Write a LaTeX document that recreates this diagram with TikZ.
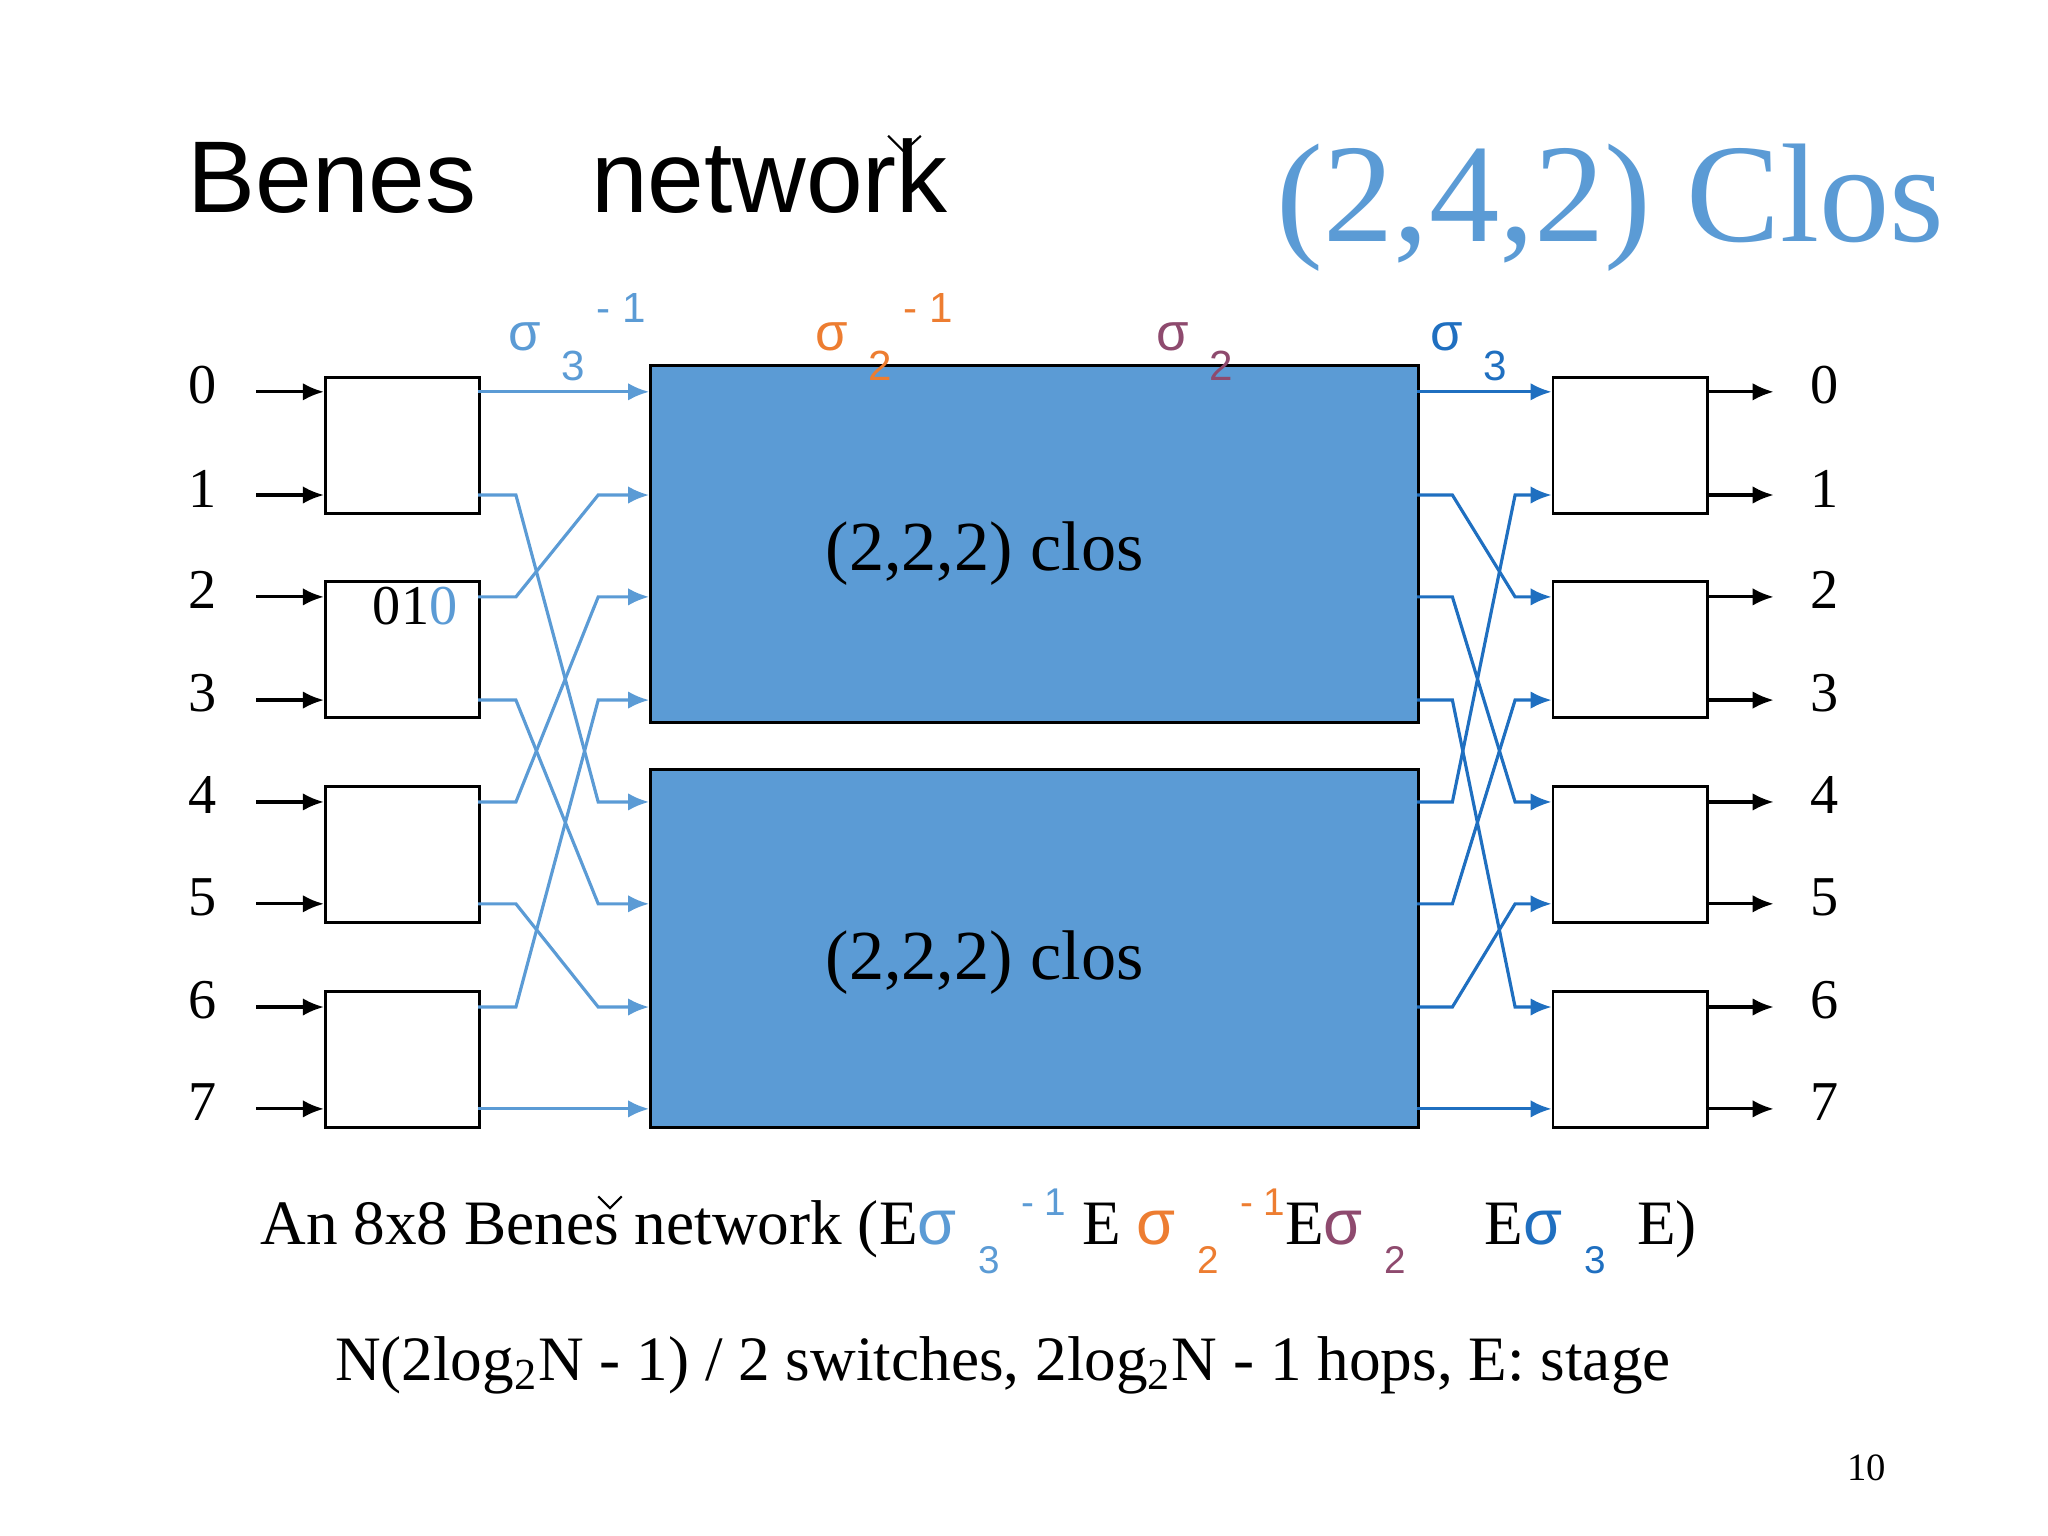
\documentclass[tikz,border=0pt]{standalone}
\usepackage{fontspec}
\setmainfont{Liberation Serif}
\newfontfamily\sans{Liberation Sans}
\usetikzlibrary{arrows.meta}
\definecolor{lb}{HTML}{5B9BD5}
\definecolor{db}{HTML}{1F6FC0}
\definecolor{orn}{HTML}{ED7D31}
\definecolor{plum}{HTML}{8E4A6E}
\begin{document}
\begin{tikzpicture}[x=0.013061cm,y=-0.013061cm,
  sw/.style={draw=black,fill=white,line width=0.8pt},
  clos/.style={draw=black,fill=lb,line width=0.8pt},
  inar/.style={-{Latex[length=6pt,width=5pt]},line width=0.9pt},
  lw/.style={lb,line width=0.9pt,-{Latex[length=6pt,width=5pt]}},
  rw/.style={db,line width=0.9pt,-{Latex[length=6pt,width=5pt]}},
  num/.style={font=\fontsize{16}{16}\selectfont},
  sig/.style={font=\sans\fontsize{15}{15}\selectfont}]
\useasboundingbox (0,0) rectangle (1568,1176);
\node[font=\sans\fontsize{29}{29}\selectfont,anchor=base west] (t1) at (134,163) {Benes};
\node[font=\sans\fontsize{29}{29}\selectfont,anchor=base west] (t2) at (443,163) {network};
\draw[line width=0.6pt] (680,104) -- (692,116) -- (705,104);
\node[font=\fontsize{40}{40}\selectfont,text=lb,anchor=base west] (t3) at (968,185) {(2,4,2) Clos};
% clos boxes
\node[clos,minimum width=588*0.013061cm,minimum height=273*0.013061cm,anchor=north west,inner sep=0] (u) at (497,279) {};
\node[clos,minimum width=588*0.013061cm,minimum height=274*0.013061cm,anchor=north west,inner sep=0] (d) at (497,588) {};
\node[font=\fontsize{20}{20}\selectfont] (ul) at (754,424) {(2,2,2) clos};
\node[font=\fontsize{20}{20}\selectfont] (dl) at (754,737) {(2,2,2) clos};
% switches
\foreach \i/\yt in {0/288,1/444,2/601,3/758}{
  \node[sw,minimum width=118*0.013061cm,minimum height=104*0.013061cm,anchor=north west,inner sep=0] (L\i) at (248,\yt) {};
  \node[sw,minimum width=118*0.013061cm,minimum height=104*0.013061cm,anchor=north west,inner sep=0] (R\i) at (1188,\yt) {};
}
\node[num,anchor=base west] (c010) at (276,478) {01\textcolor{lb}{0}};
% inputs/outputs
\foreach \n/\y in {0/300,1/379,2/457,3/536,4/614,5/692,6/771,7/849}{
  \coordinate (a\n) at (196,\y);
  \coordinate (b\n) at (248,\y);
  \coordinate (e\n) at (1306,\y);
  \coordinate (f\n) at (1358,\y);
  \draw[inar] (a\n) -- (b\n);
  \draw[inar] (e\n) -- (f\n);
  \node[num] (ln\n) at (155,\y-5) {\n};
  \node[num] (rn\n) at (1397,\y-5) {\n};
}
% left wiring: from y -> to y
\foreach \s/\t in {379/614,457/379,536/692,614/457,692/771,771/536}{
  \draw[lw] (366,\s) -- (395,\s) -- (458,\t) -- (497,\t);
}
\draw[lw] (366,300) -- (497,300);
\draw[lw] (366,849) -- (497,849);
% right wiring
\foreach \s/\t in {379/457,457/614,536/771,614/379,692/536,771/692}{
  \draw[rw] (1085,\s) -- (1112,\s) -- (1160,\t) -- (1188,\t);
}
\draw[rw] (1085,300) -- (1188,300);
\draw[rw] (1085,849) -- (1188,849);
% sigma labels
\node[sig,text=lb,anchor=base west] (s1) at (380,268) {σ\,\raisebox{-1.1ex}{\fontsize{12}{12}\selectfont\ 3}\raisebox{1ex}{\fontsize{12}{12}\selectfont\ - 1}};
\node[sig,text=orn,anchor=base west] (s2) at (615,268) {σ\,\raisebox{-1.1ex}{\fontsize{12}{12}\selectfont\ 2}\raisebox{1ex}{\fontsize{12}{12}\selectfont\ - 1}};
\node[sig,text=plum,anchor=base west] (s3) at (876,268) {σ\,\raisebox{-1.1ex}{\fontsize{12}{12}\selectfont\ 2}};
\node[sig,text=db,anchor=base west] (s4) at (1086,268) {σ\,\raisebox{-1.1ex}{\fontsize{12}{12}\selectfont\ 3}};
% caption
\node[font=\fontsize{18}{18}\selectfont,anchor=base west] (cap) at (190,953) {An 8x8 Benes network (E\textcolor{lb}{{\sans σ}\raisebox{-1ex}{\sans\fontsize{11}{11}\selectfont\ \ 3}\raisebox{1ex}{\sans\fontsize{11}{11}\selectfont\ \ - 1}} E \textcolor{orn}{{\sans σ}\raisebox{-1ex}{\sans\fontsize{11}{11}\selectfont\ \ 2}\raisebox{1ex}{\sans\fontsize{11}{11}\selectfont\ \ - 1}}E\textcolor{plum}{{\sans σ}\raisebox{-1ex}{\sans\fontsize{11}{11}\selectfont\ \ 2}}\quad\ E\textcolor{db}{{\sans σ}\raisebox{-1ex}{\sans\fontsize{11}{11}\selectfont\ \ 3}}\ \ E)};
\draw[line width=0.6pt] (458,916) -- (467,925) -- (476,916);
\node[font=\fontsize{18}{18}\selectfont,anchor=base west] (cap2) at (247,1057) {N(2log\textsubscript{2}N - 1) / 2 switches, 2log\textsubscript{2}N - 1 hops, E: stage};
\node[font=\fontsize{11}{11}\selectfont] (pg) at (1429,1124) {10};
\end{tikzpicture}
\end{document}
